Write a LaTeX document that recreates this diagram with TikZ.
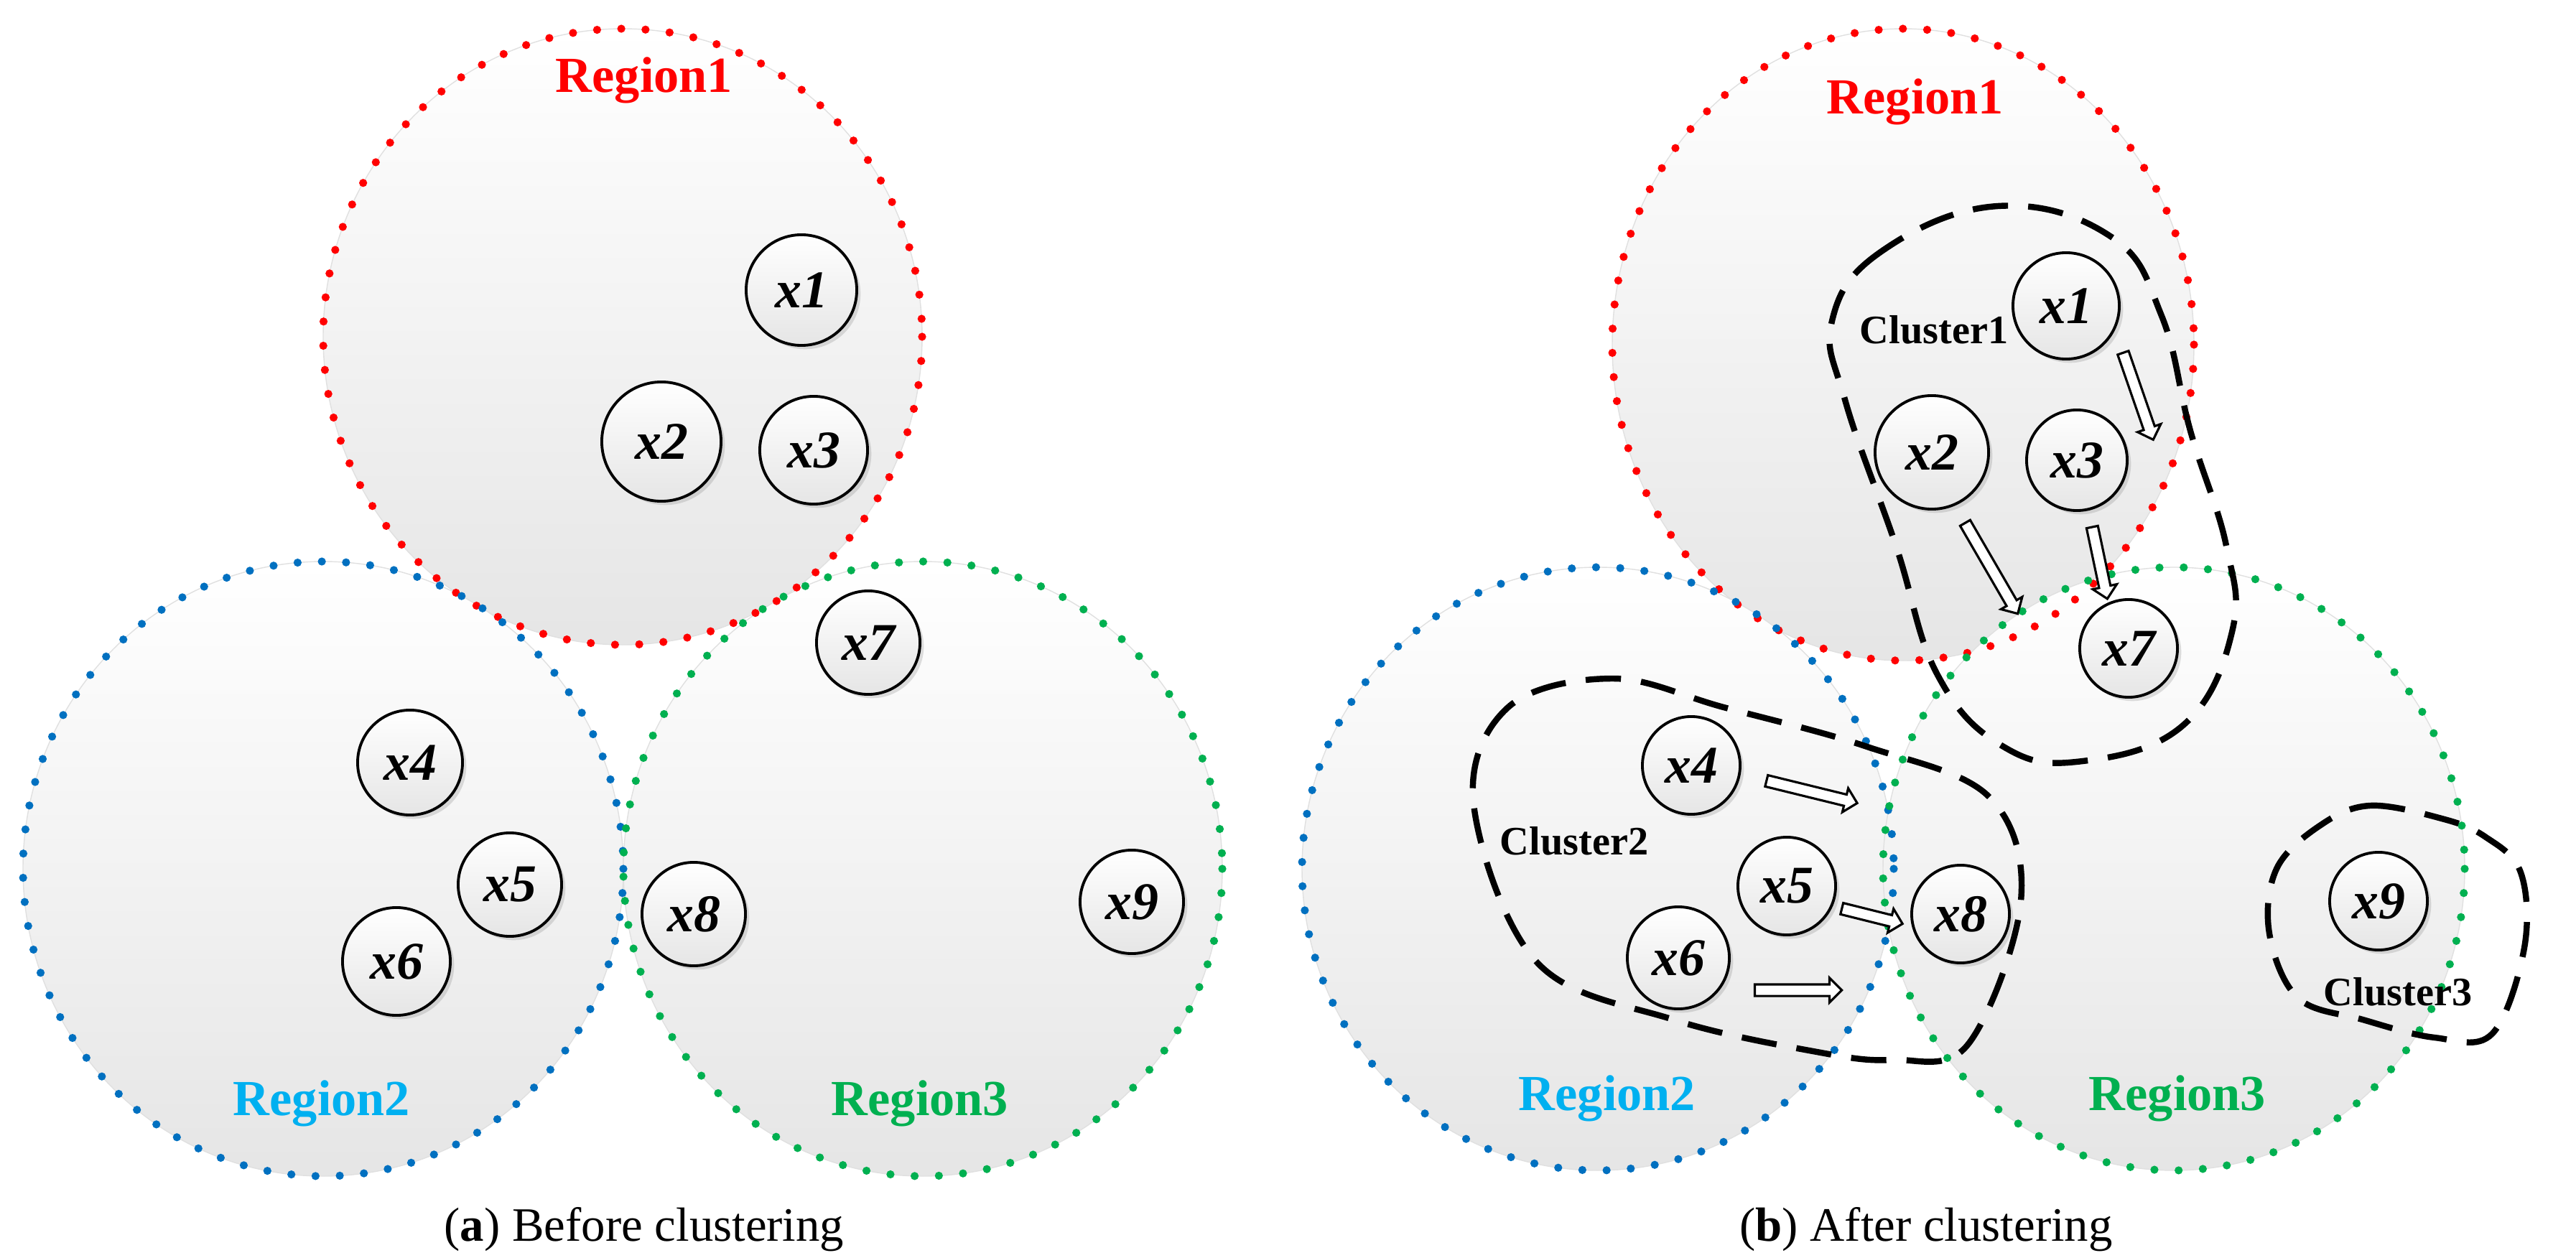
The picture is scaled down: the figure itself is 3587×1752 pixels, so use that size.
\documentclass[tikz,border=0pt]{standalone}
\usepackage{fontspec}
\setmainfont{Liberation Serif}
\usetikzlibrary{shapes.arrows,shadows}
\definecolor{rred}{HTML}{FF0000}
\definecolor{rblue}{HTML}{0070C0}
\definecolor{rgreen}{HTML}{00B050}
\definecolor{lblue}{HTML}{00B0F0}
\begin{document}
\begin{tikzpicture}[x=0.01cm,y=-0.01cm,
  regfill/.style={top color=white,bottom color=black!10,draw=black!12,line width=0.4pt},
  dots/.style={draw=#1,line width=3.2pt,line cap=round,dash pattern=on 0pt off 9.6pt},
  pt/.style={circle,draw=black,line width=1.1pt,top color=white,bottom color=black!10,
    drop shadow={opacity=0.25,shadow xshift=1.5pt,shadow yshift=-1.5pt},
    font=\fontsize{21}{23}\selectfont\bfseries\itshape,inner sep=0pt},
  rlab/.style={font=\fontsize{20}{22}\selectfont\bfseries,text=#1},
  clab/.style={font=\fontsize{16}{18}\selectfont\bfseries},
  clus/.style={draw=black,line width=2.4pt,dash pattern=on 14pt off 8pt},
  harr/.style={single arrow,draw=black,fill=white,line width=0.9pt,inner sep=0.065cm,
    single arrow head extend=0.09cm,single arrow head indent=0pt,minimum height=#1},
  capt/.style={font=\fontsize{19}{21}\selectfont}]
\useasboundingbox (0,0) rectangle (3587,1752);
% ---------- panel (a)
\path[regfill] (867,469) ellipse [x radius=417,y radius=429];
\path[regfill] (450,1210) ellipse [x radius=418,y radius=428];
\path[regfill] (1285,1210) ellipse [x radius=417,y radius=428];
\path[dots=rred] (867,469) ellipse [x radius=417,y radius=429];
\path[dots=rblue] (450,1210) ellipse [x radius=418,y radius=428];
\path[dots=rgreen] (1285,1210) ellipse [x radius=417,y radius=428];
\node[rlab=rred] (ra1) at (897,112) {Region1};
\node[rlab=lblue] (ra2) at (448,1537) {Region2};
\node[rlab=rgreen] (ra3) at (1281,1537) {Region3};
\node[pt,minimum size=1.54cm] (a1) at (1116,404) {x1};
\node[pt,minimum size=1.66cm] (a2) at (921,615) {x2};
\node[pt,minimum size=1.5cm] (a3) at (1133,627) {x3};
\node[pt,minimum size=1.44cm] (a7) at (1209,895) {x7};
\node[pt,minimum size=1.46cm] (a4) at (571,1062) {x4};
\node[pt,minimum size=1.44cm] (a5) at (710,1232) {x5};
\node[pt,minimum size=1.5cm] (a6) at (552,1339) {x6};
\node[pt,minimum size=1.44cm] (a8) at (966,1273) {x8};
\node[pt,minimum size=1.44cm] (a9) at (1576,1256) {x9};
\node[capt] (capa) at (897,1712) {(\textbf{a}) Before clustering};
% ---------- panel (b)
\path[regfill] (2650,480) ellipse [x radius=405,y radius=440];
\path[regfill] (2225,1210) ellipse [x radius=412,y radius=420];
\path[regfill] (3027,1210) ellipse [x radius=405,y radius=420];
\path[dots=rred] (2650,480) ellipse [x radius=405,y radius=440];
\path[dots=rblue] (2225,1210) ellipse [x radius=412,y radius=420];
\path[dots=rgreen] (3027,1210) ellipse [x radius=405,y radius=420];
\node[rlab=rred] (rb1) at (2667,142) {Region1};
\node[rlab=lblue] (rb2) at (2238,1530) {Region2};
\node[rlab=rgreen] (rb3) at (3032,1530) {Region3};
% clusters
\draw[clus] plot[smooth cycle,tension=0.7] coordinates {(2782,287) (2620,350) (2551,447) (2570,560) (2640,760) (2698,940) (2790,1040) (2900,1060) (3040,1010) (3108,880) (3100,760) (3050,600) (3010,440) (2940,330)};
\draw[clus] plot[smooth cycle,tension=0.6] coordinates {(2246,945) (2100,985) (2052,1120) (2140,1340) (2330,1420) (2530,1465) (2635,1476) (2740,1455) (2814,1255) (2770,1110) (2600,1040) (2400,985)};
\draw[clus] plot[smooth cycle,tension=0.6] coordinates {(3230,1150) (3300,1122) (3400,1140) (3460,1165) (3510,1215) (3515,1320) (3470,1440) (3390,1445) (3290,1420) (3200,1390) (3160,1300) (3170,1210)};
\node[pt,minimum size=1.48cm] (b1) at (2877,426) {x1};
\node[pt,minimum size=1.58cm] (b2) at (2690,630) {x2};
\node[pt,minimum size=1.4cm] (b3) at (2892,641) {x3};
\node[pt,minimum size=1.36cm] (b7) at (2964,903) {x7};
\node[pt,minimum size=1.36cm] (b4) at (2355,1066) {x4};
\node[pt,minimum size=1.36cm] (b5) at (2488,1234) {x5};
\node[pt,minimum size=1.42cm] (b6) at (2337,1334) {x6};
\node[pt,minimum size=1.36cm] (b8) at (2730,1273) {x8};
\node[pt,minimum size=1.36cm] (b9) at (3312,1255) {x9};
\node[clab] (c1) at (2693,459) {Cluster1};
\node[clab] (c2) at (2192,1171) {Cluster2};
\node[clab] (c3) at (3339,1381) {Cluster3};
% hollow arrows
\node[harr=1.28cm,rotate=-70.9] (h1) at (2976,548) {};
\node[harr=1.46cm,rotate=-59.9] (h2) at (2771,788) {};
\node[harr=1.02cm,rotate=-78.1] (h3) at (2923,780) {};
\node[harr=1.30cm,rotate=-13.8] (h4) at (2519,1102) {};
\node[harr=0.87cm,rotate=-14.0] (h5) at (2603,1275) {};
\node[harr=1.21cm,rotate=0] (h6) at (2500,1379) {};
\node[capt] (capb) at (2682,1712) {(\textbf{b}) After clustering};
\end{tikzpicture}
\end{document}
